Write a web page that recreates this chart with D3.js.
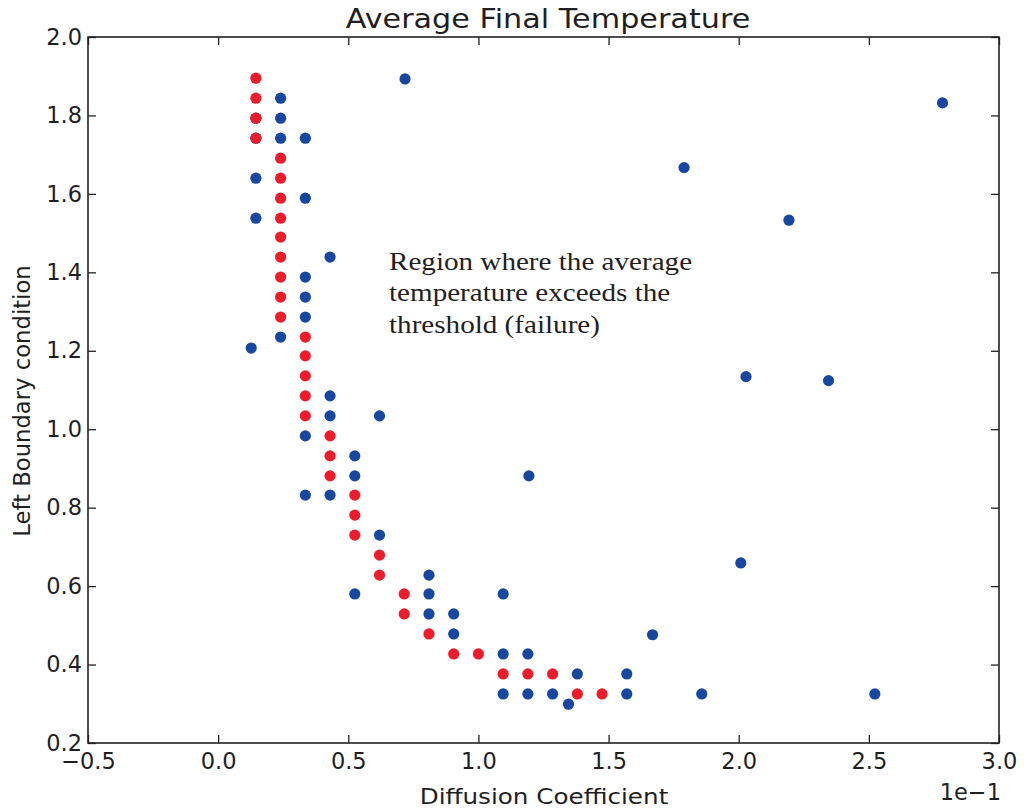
<!DOCTYPE html>
<html>
<head>
<meta charset="utf-8">
<script src="https://cdn.jsdelivr.net/npm/d3@7"></script>
<style>
  html, body { margin: 0; padding: 0; background: #fff; }
  svg { display: block; }
  text { fill: #1f1f1f; }
</style>
</head>
<body>
<script>
// Sampled runs: [diffusion coefficient (x1e-1), left boundary condition]
const safeRuns = [
  [0.24, 1.844], [0.145, 1.793], [0.24, 1.793], [0.145, 1.742], [0.24, 1.742], [0.335, 1.742],
  [0.145, 1.640], [0.335, 1.589], [0.145, 1.538], [0.43, 1.439],
  [0.335, 1.388], [0.335, 1.337], [0.335, 1.286], [0.24, 1.235], [0.127, 1.207],
  [0.43, 1.085], [0.43, 1.034], [0.62, 1.034], [0.335, 0.983], [0.525, 0.932], [0.525, 0.881],
  [0.335, 0.832], [0.43, 0.832], [0.62, 0.730], [0.81, 0.628],
  [0.525, 0.580], [0.81, 0.580], [1.095, 0.580], [0.81, 0.529], [0.905, 0.529], [0.905, 0.478],
  [1.095, 0.427], [1.19, 0.427], [1.38, 0.376], [1.57, 0.376],
  [1.095, 0.325], [1.19, 0.325], [1.285, 0.325], [1.57, 0.325], [1.858, 0.325], [2.523, 0.325],
  [1.346, 0.299], [1.669, 0.476], [2.008, 0.659],
  [0.718, 1.893], [2.783, 1.832], [1.79, 1.667], [2.193, 1.533],
  [2.028, 1.134], [2.345, 1.124], [1.194, 0.881]
];

const failedRuns = [
  [0.145, 1.895], [0.145, 1.844], [0.145, 1.793], [0.145, 1.742],
  [0.24, 1.691], [0.24, 1.640], [0.24, 1.589], [0.24, 1.538], [0.24, 1.490],
  [0.24, 1.439], [0.24, 1.388], [0.24, 1.337], [0.24, 1.286],
  [0.335, 1.235], [0.335, 1.187], [0.335, 1.136], [0.335, 1.085], [0.335, 1.034],
  [0.43, 0.983], [0.43, 0.932], [0.43, 0.881],
  [0.525, 0.832], [0.525, 0.781], [0.525, 0.730],
  [0.62, 0.679], [0.62, 0.628],
  [0.715, 0.580], [0.715, 0.529],
  [0.81, 0.478],
  [0.905, 0.427], [1.0, 0.427],
  [1.095, 0.376], [1.19, 0.376], [1.285, 0.376],
  [1.38, 0.325], [1.475, 0.325]
];

const xTicks = [-0.5, 0.0, 0.5, 1.0, 1.5, 2.0, 2.5, 3.0];
const yTicks = [0.2, 0.4, 0.6, 0.8, 1.0, 1.2, 1.4, 1.6, 1.8, 2.0];
const annotationLines = [
  "Region where the average",
  "temperature exceeds the",
  "threshold (failure)"
];

const W = 1024, H = 809;
const plot = { left: 88, right: 999, top: 37, bottom: 743 };
const wide = 1.12; // horizontal widening used for the title, x label and note

const svg = d3.select("body").append("svg")
  .attr("width", W).attr("height", H)
  .style("font-family", "'DejaVu Sans', sans-serif");

svg.append("rect").attr("width", W).attr("height", H).attr("fill", "#fff");

const x = d3.scaleLinear().domain([-0.5, 3.0]).range([plot.left, plot.right]);
const y = d3.scaleLinear().domain([0.2, 2.0]).range([plot.bottom, plot.top]);
const fmt = d3.format(".1f");

// points: safe runs underneath, failed runs on top
const dots = svg.append("g");
dots.selectAll("circle.safe").data(safeRuns).join("circle")
  .attr("class", "safe")
  .attr("cx", d => x(d[0])).attr("cy", d => y(d[1]))
  .attr("r", 5.6).attr("fill", "#17479e");
dots.selectAll("circle.fail").data(failedRuns).join("circle")
  .attr("class", "fail")
  .attr("cx", d => x(d[0])).attr("cy", d => y(d[1]))
  .attr("r", 5.6).attr("fill", "#ec1c2a");

// axes with inward ticks on all four sides
function styleAxis(g) {
  g.select(".domain").remove();
  g.selectAll(".tick line").attr("stroke", "#222").attr("stroke-width", 1.3);
  g.selectAll(".tick text").attr("fill", "#1f1f1f").style("font-size", "22.5px")
    .style("font-family", "'DejaVu Sans', sans-serif");
}

svg.append("g").attr("transform", `translate(0,${plot.bottom})`)
  .call(d3.axisBottom(x).tickValues(xTicks).tickFormat(fmt).tickSizeInner(-8).tickSizeOuter(0).tickPadding(10))
  .call(styleAxis);
svg.append("g").attr("transform", `translate(0,${plot.top})`)
  .call(d3.axisTop(x).tickValues(xTicks).tickFormat("").tickSizeInner(-8).tickSizeOuter(0))
  .call(styleAxis);
svg.append("g").attr("transform", `translate(${plot.left},0)`)
  .call(d3.axisLeft(y).tickValues(yTicks).tickFormat(fmt).tickSizeInner(-8).tickSizeOuter(0).tickPadding(6))
  .call(styleAxis);
svg.append("g").attr("transform", `translate(${plot.right},0)`)
  .call(d3.axisRight(y).tickValues(yTicks).tickFormat("").tickSizeInner(-8).tickSizeOuter(0))
  .call(styleAxis);

// frame
svg.append("rect")
  .attr("x", plot.left).attr("y", plot.top)
  .attr("width", plot.right - plot.left).attr("height", plot.bottom - plot.top)
  .attr("fill", "none").attr("stroke", "#222").attr("stroke-width", 1.6);

// title and labels
svg.append("text")
  .attr("transform", `translate(548,28) scale(${wide},1)`)
  .attr("text-anchor", "middle").style("font-size", "27px")
  .text("Average Final Temperature");

svg.append("text")
  .attr("transform", `translate(544,804) scale(${wide},1)`)
  .attr("text-anchor", "middle").style("font-size", "22px")
  .text("Diffusion Coefficient");

svg.append("text").attr("transform", `translate(30,401) rotate(-90)`)
  .attr("text-anchor", "middle").style("font-size", "22.7px")
  .text("Left Boundary condition");

svg.append("text").attr("x", plot.right + 2).attr("y", 800)
  .attr("text-anchor", "end").style("font-size", "22.5px")
  .text("1e\u22121");

// annotation
const note = svg.append("text")
  .attr("transform", `translate(389,0) scale(${wide},1)`)
  .style("font-family", "'Liberation Serif', 'Times New Roman', serif")
  .style("font-size", "26px");
note.selectAll("tspan").data(annotationLines).join("tspan")
  .attr("x", 0).attr("y", (d, i) => 270 + i * 31.5)
  .text(d => d);
</script>
</body>
</html>
